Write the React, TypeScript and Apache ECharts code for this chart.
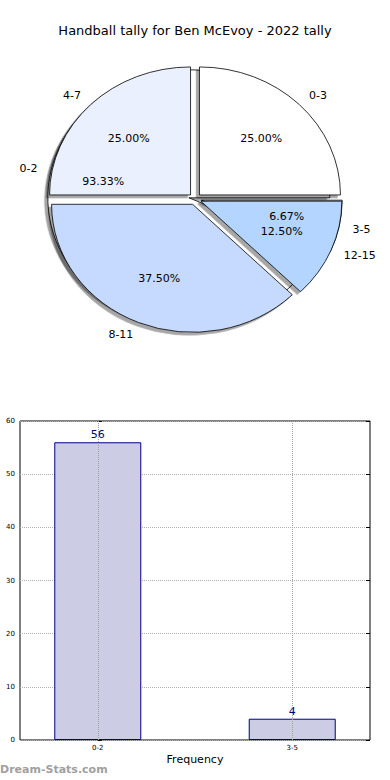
import React, { useEffect, useRef } from "react";
import * as echarts from "echarts";

const titleText = "Handball tally for Ben McEvoy - 2022 tally";

// Inner pie (drawn first, underneath)
const namesA = ["0-2", "3-5"];
const countsA = [56, 4];
const colorsA = ["#ffffff", "#eaf0fe"];

// Outer pie (drawn on top)
const namesB = ["0-3", "4-7", "8-11", "12-15"];
const countsB = [2, 2, 3, 1];
const colorsB = ["#ffffff", "#eaf0fe", "#c6d9fe", "#b3d5ff"];

// Bar chart
const barCategories = ["0-2", "3-5"];
const barValues = [56, 4];
const yTicks = [0, 10, 20, 30, 40, 50, 60];

const FONT = "DejaVu Sans";
const CX = 195;
const CY = 199;
const R = 134;
const RX = 141;
const RY = 128;
const OFFSET = 6;

function pctFmt(p: any) {
  return (p.percent as number).toFixed(2) + "%";
}

// Shift each label as if the circular pie were stretched into the ellipse
function stretchLayout(p: any) {
  const r = p.labelRect;
  const ax = p.align === "left" ? r.x : p.align === "right" ? r.x + r.width : r.x + r.width / 2;
  const ay = r.y + r.height / 2;
  return {
    dx: (ax - CX) * (RX / R - 1),
    dy: (ay - CY) * (RY / R - 1),
  };
}

const pieBase = {
  type: "pie",
  center: [CX, CY],
  startAngle: 0,
  clockwise: false,
  avoidLabelOverlap: false,
  selectedMode: "multiple",
  selectedOffset: OFFSET,
  silent: true,
  emphasis: { disabled: true },
  percentPrecision: 2,
};

function sectorSeries(names: string[], counts: number[], colors: string[], z: number) {
  return {
    ...pieBase,
    z,
    radius: [0, R],
    label: { show: false },
    labelLine: { show: false },
    data: names.map((n, i) => ({
      name: n,
      value: counts[i],
      selected: true,
      itemStyle: {
        color: colors[i],
        borderColor: "#000",
        borderWidth: 0.8,
        shadowColor: "rgba(0,0,0,0.35)",
        shadowBlur: 1,
        shadowOffsetX: -3,
        shadowOffsetY: 3,
      },
    })),
  };
}

function labelSeries(names: string[], counts: number[]) {
  const nameLabels = {
    ...pieBase,
    z: 10,
    radius: [0, R],
    itemStyle: { color: "rgba(0,0,0,0)", borderWidth: 0 },
    label: {
      show: true,
      position: "outside",
      formatter: "{b}",
      color: "#000",
      fontFamily: FONT,
      fontSize: 11,
      distanceToLabelLine: 0,
    },
    labelLine: { show: false, length: R * 0.1, length2: 0 },
    labelLayout: stretchLayout,
    data: names.map((n, i) => ({ name: n, value: counts[i], selected: true })),
  };
  const pctLabels = {
    ...pieBase,
    z: 10,
    radius: [0, R * 1.2],
    itemStyle: { color: "rgba(0,0,0,0)", borderWidth: 0 },
    label: {
      show: true,
      position: "inside",
      formatter: pctFmt,
      color: "#000",
      fontFamily: FONT,
      fontSize: 11,
    },
    labelLine: { show: false },
    labelLayout: stretchLayout,
    data: names.map((n, i) => ({ name: n, value: counts[i], selected: true })),
  };
  return [nameLabels, pctLabels];
}

export default function App() {
  const pieRef = useRef<HTMLDivElement>(null);
  const ref = useRef<HTMLDivElement>(null);

  useEffect(() => {
    document.body.style.margin = "0";
    if (!ref.current || !pieRef.current) return;

    // Pie wedges (no text), stretched into matplotlib's elliptical pie
    const pieChart = echarts.init(pieRef.current, undefined, { renderer: "svg" });
    pieChart.setOption({
      animation: false,
      series: [
        sectorSeries(namesA, countsA, colorsA, 1),
        sectorSeries(namesB, countsB, colorsB, 2),
      ],
    });

    const chart = echarts.init(ref.current, undefined, { renderer: "svg" });
    const [nA, pA] = labelSeries(namesA, countsA);
    const [nB, pB] = labelSeries(namesB, countsB);

    const option: any = {
      animation: false,
      textStyle: { fontFamily: FONT },
      title: {
        text: titleText,
        left: "center",
        top: 19,
        textStyle: { fontFamily: FONT, fontSize: 13, fontWeight: "normal", color: "#000" },
      },
      grid: {
        left: 20,
        right: 20,
        top: 421,
        bottom: 40,
        show: true,
        borderColor: "#000",
        borderWidth: 1,
        backgroundColor: "transparent",
      },
      xAxis: {
        type: "value",
        min: -0.4,
        max: 1.4,
        interval: 0.2,
        name: "Frequency",
        nameLocation: "middle",
        nameGap: 14,
        nameTextStyle: { fontFamily: FONT, fontSize: 11, color: "#000" },
        axisLine: { show: false },
        axisTick: { show: false },
        splitLine: { show: false },
        axisLabel: {
          fontFamily: FONT,
          fontSize: 7,
          color: "#000",
          margin: 4,
          formatter: (v: number) => {
            const i = Math.round(v);
            return Math.abs(v - i) < 1e-6 && barCategories[i] !== undefined ? barCategories[i] : "";
          },
        },
      },
      yAxis: [
        {
          type: "value",
          min: yTicks[0],
          max: yTicks[yTicks.length - 1],
          interval: 10,
          axisLine: { show: false },
          axisTick: { show: true, inside: true, length: 4, lineStyle: { color: "#000" } },
          splitLine: { show: true, lineStyle: { type: "dotted", color: "#b0b0b0", width: 1 } },
          axisLabel: { fontFamily: FONT, fontSize: 7, color: "#000", margin: 5 },
        },
        {
          type: "value",
          position: "right",
          min: yTicks[0],
          max: yTicks[yTicks.length - 1],
          interval: 10,
          axisLine: { show: false },
          axisTick: { show: true, inside: true, length: 4, lineStyle: { color: "#000" } },
          splitLine: { show: false },
          axisLabel: { show: false },
        },
      ],
      series: [
        nA,
        pA,
        nB,
        pB,
        {
          type: "bar",
          xAxisIndex: 0,
          yAxisIndex: 0,
          barWidth: 87,
          data: barCategories.map((c, i) => [i, barValues[i]]),
          itemStyle: { color: "#ccccE5", borderColor: "#000080", borderWidth: 1 },
          label: {
            show: true,
            position: "top",
            distance: 2,
            color: "#000080",
            fontFamily: FONT,
            fontSize: 11,
            formatter: (p: any) => String(p.value[1]),
          },
          markLine: {
            silent: true,
            symbol: "none",
            label: { show: false },
            lineStyle: { type: "dotted", color: "#a0a0a0", width: 1 },
            data: barCategories.map((c, i) => ({ xAxis: i })),
          },
        },
      ],
      graphic: [
        {
          type: "text",
          left: 0,
          top: 764,
          style: {
            text: "Dream-Stats.com",
            fontFamily: FONT,
            fontSize: 11,
            fontWeight: "bold",
            fill: "#a0a0a0",
          },
        },
      ],
    };

    chart.setOption(option);
    return () => {
      chart.dispose();
      pieChart.dispose();
    };
  }, []);

  return (
    <div style={{ position: "absolute", left: 0, top: 0, width: 390, height: 780, background: "#fff" }}>
      <div
        ref={pieRef}
        style={{
          position: "absolute",
          left: 0,
          top: 0,
          width: 390,
          height: 400,
          transform: `scale(${RX / R}, ${RY / R})`,
          transformOrigin: `${CX}px ${CY}px`,
        }}
      />
      <div ref={ref} style={{ position: "absolute", left: 0, top: 0, width: 390, height: 780 }} />
    </div>
  );
}
